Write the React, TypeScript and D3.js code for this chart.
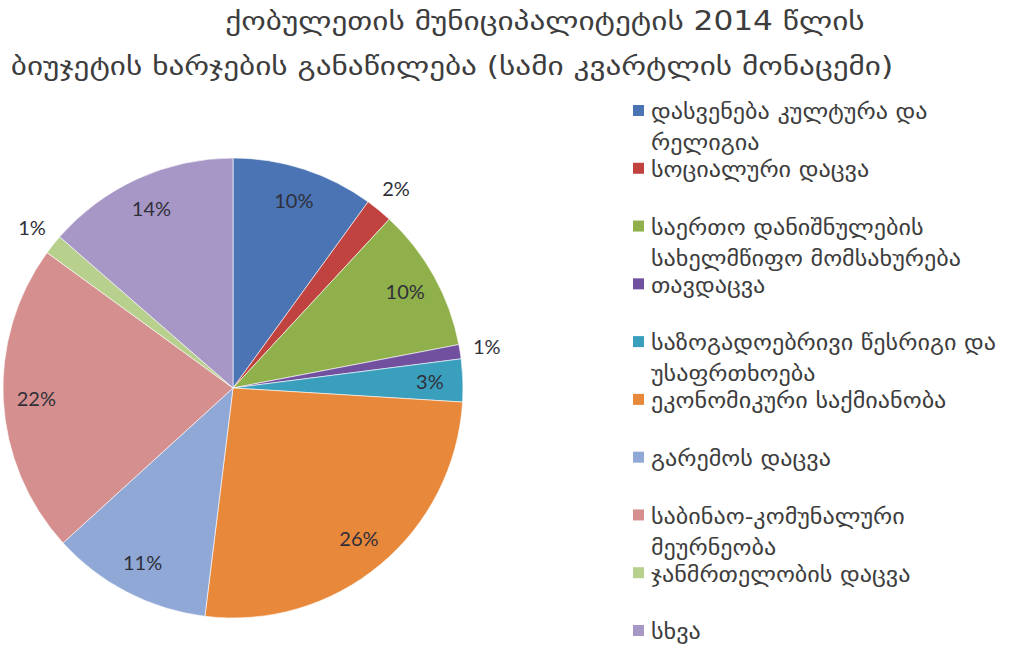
import React from "react";
import * as d3 from "d3";

const titleLines = [
  "ქობულეთის  მუნიციპალიტეტის 2014 წლის",
  "ბიუჯეტის ხარჯების განაწილება (სამი კვარტლის მონაცემი)",
];

const categories = [
  ["დასვენება კულტურა და", "რელიგია"],
  ["სოციალური დაცვა"],
  ["საერთო დანიშნულების", "სახელმწიფო მომსახურება"],
  ["თავდაცვა"],
  ["საზოგადოებრივი წესრიგი და", "უსაფრთხოება"],
  ["ეკონომიკური საქმიანობა"],
  ["გარემოს დაცვა"],
  ["საბინაო-კომუნალური", "მეურნეობა"],
  ["ჯანმრთელობის დაცვა"],
  ["სხვა"],
];

const values = [10.0, 1.9, 10.1, 1.0, 3.0, 26.0, 11.3, 21.8, 1.4, 13.6];

const colors = [
  "#4a74b4",
  "#c0433f",
  "#8fb04a",
  "#7250a0",
  "#3a9fbd",
  "#e8883a",
  "#90a8d6",
  "#d58f8e",
  "#b8d08e",
  "#a797c6",
];

const W = 1016;
const H = 654;
const cx = 233;
const cy = 388;
const R = 230;

export default function App() {
  const total = d3.sum(values);
  const pie = d3.pie<number>().sort(null).value((d) => d);
  const arcs = pie(values);
  const arcGen = d3.arc<d3.PieArcDatum<number>>().innerRadius(0).outerRadius(R);
  const inLabel = d3.arc<d3.PieArcDatum<number>>().innerRadius(197).outerRadius(197);
  const outLabel = d3.arc<d3.PieArcDatum<number>>().innerRadius(257).outerRadius(257);
  const fmt = d3.format(".0%");

  const legendY = d3.scaleLinear().domain([0, categories.length - 1]).range([112, 632]);
  const georgian = "'DejaVu Sans', sans-serif";

  return (
    <svg
      width={W}
      height={H}
      style={{ position: "absolute", left: 0, top: 0, background: "#fff" }}
    >
      {titleLines.map((t, i) => (
        <text
          key={i}
          transform={`translate(${i === 0 ? 545 : 452},${i === 0 ? 30 : 75}) scale(1.2,1)`}
          textAnchor="middle"
          fontFamily={georgian}
          fontSize={26}
          fill="#3d3d3d"
        >
          {t}
        </text>
      ))}
      <g transform={`translate(${cx},${cy})`}>
        {arcs.map((a, i) => (
          <path key={i} d={arcGen(a) || ""} fill={colors[i]} stroke="#ffffff" strokeWidth={0.6} />
        ))}
        {arcs.map((a, i) => {
          const small = values[i] / total < 0.025;
          const [x, y] = (small ? outLabel : inLabel).centroid(a);
          return (
            <text
              key={"l" + i}
              x={x}
              y={y}
              dy="0.35em"
              textAnchor="middle"
              fontFamily="Lato, 'Open Sans', sans-serif"
              fontSize={20}
              fill="#2f2f3a"
            >
              {fmt(values[i] / total)}
            </text>
          );
        })}
      </g>
      {categories.map((lines, i) => {
        const y = legendY(i);
        return (
          <g key={"g" + i}>
            <rect x={633} y={y - 7} width={11} height={11} fill={colors[i]} />
            {lines.map((ln, j) => (
              <text
                key={j}
                transform={`translate(651,${y + j * 31}) scale(1.15,1)`}
                dy="0.35em"
                fontFamily={georgian}
                fontSize={21}
                fill="#3d3d3d"
              >
                {ln}
              </text>
            ))}
          </g>
        );
      })}
    </svg>
  );
}
